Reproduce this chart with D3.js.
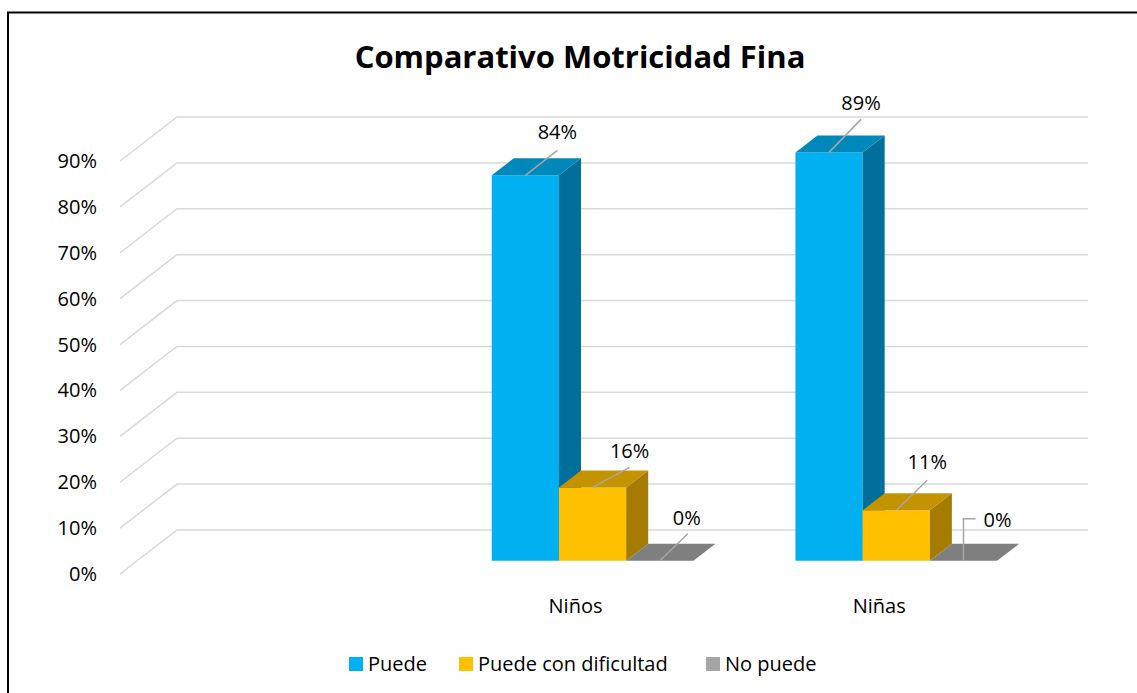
<!DOCTYPE html>
<html><head><meta charset="utf-8">
<script src="https://cdn.jsdelivr.net/npm/d3@7"></script>
<style>body{margin:0;background:#fff}svg{display:block}text{font-family:"Open Sans","Liberation Sans",Arial,sans-serif}</style>
</head><body>
<svg id="c" width="1137" height="693"></svg>
<script>
const categories = ["", "Niños", "Niñas"];
const seriesNames = ["Puede", "Puede con dificultad", "No puede"];
const puede = [null, 84, 89];
const conDificultad = [null, 16, 11];
const noPuede = [null, 0, 0];
const yTicks = [0, 10, 20, 30, 40, 50, 60, 70, 80, 90];
const title = "Comparativo Motricidad Fina";

const seriesValues = [puede, conDificultad, noPuede];
const front = ["#00B0F0", "#FFC000", "#A5A5A5"];
const topC = ["#0088BA", "#C49300", "#7F7F7F"];
const sideC = ["#006F99", "#A67C00", "#7F7F7F"];
const FS = 20;

const svg = d3.select("#c");
svg.append("path").attr("d", "M8,693 L8,12.5 L1137,12.5").attr("fill", "none").attr("stroke", "#000").attr("stroke-width", 2);

const x0 = d3.scaleBand().domain(categories).range([177, 1088]).padding(0);
const bw = x0.bandwidth();
const x1 = d3.scaleBand().domain(seriesNames).range([bw * 0.168, bw * 0.832]).padding(0);
const y = d3.scaleLinear().domain([0, 90]).range([530, 117]);
const DX = -57, DY = 44;
const proj = (x, v, z) => [x + DX * z, y(v) + DY * z];

const g = svg.append("g");
yTicks.forEach(t => {
  const a = proj(177, t, 1), b = proj(177, t, 0), c = proj(1088, t, 0);
  g.append("path").attr("d", d3.line()([a, b, c])).attr("fill", "none").attr("stroke", "#D9D9D9").attr("stroke-width", 1.5);
  g.append("text").attr("x", 97).attr("y", a[1]).attr("dy", "0.35em").attr("text-anchor", "end")
    .attr("font-size", FS).attr("fill", "#000").text(t + "%");
});

const zf = 0.7, zb = 0.314;
const bars = svg.append("g");
const labelLeaders = [
  [[32, -25], [32, -43]],
  [[37, -20], [37, -36]],
  [[28, -27], [27, -43]],
  [[32, -33], [32, -49]],
  [[31, -30], [31, -48]],
  [[0, -42, 12], [20, -41]]
];
let li = 0;
const poly = pts => "M" + pts.map(p => p.join(",")).join("L") + "Z";
categories.forEach((cat, ci) => {
  seriesNames.forEach((s, si) => {
    const v = seriesValues[si][ci];
    if (v === null) return;
    const xl = x0(cat) + x1(s), xr = xl + x1.bandwidth();
    if (v > 0) {
      bars.append("path").attr("d", poly([proj(xl, 0, zf), proj(xr, 0, zf), proj(xr, v, zf), proj(xl, v, zf)])).attr("fill", front[si]);
      bars.append("path").attr("d", poly([proj(xr, 0, zf), proj(xr, 0, zb), proj(xr, v, zb), proj(xr, v, zf)])).attr("fill", sideC[si]);
    }
    bars.append("path").attr("d", poly([proj(xl, v, zf), proj(xr, v, zf), proj(xr, v, zb), proj(xl, v, zb)])).attr("fill", topC[si]);
  });
});
const lab = svg.append("g");
categories.forEach((cat, ci) => {
  seriesNames.forEach((s, si) => {
    const v = seriesValues[si][ci];
    if (v === null) return;
    const xc = x0(cat) + x1(s) + x1.bandwidth() / 2;
    const p = proj(xc, v, zf);
    const L = labelLeaders[li++];
    let pts;
    if (L[0].length === 3) pts = [p, [p[0], p[1] + L[0][1]], [p[0] + L[0][2], p[1] + L[0][1]]];
    else pts = [p, [p[0] + L[0][0], p[1] + L[0][1]]];
    lab.append("path").attr("d", d3.line()(pts)).attr("fill", "none").attr("stroke", "#A6A6A6").attr("stroke-width", 1.5);
    lab.append("text").attr("x", p[0] + L[1][0]).attr("y", p[1] + L[1][1]).attr("dy", "0.35em")
      .attr("text-anchor", L[0].length === 3 ? "start" : "middle").attr("font-size", FS).attr("fill", "#000").text(v + "%");
  });
});
categories.forEach(cat => {
  if (!cat) return;
  const p = proj(x0(cat) + bw / 2, 0, 1);
  svg.append("text").attr("x", p[0]).attr("y", p[1] + 32).attr("dy", "0.35em").attr("text-anchor", "middle")
    .attr("font-size", FS).attr("fill", "#000").text(cat);
});
svg.append("text").attr("x", 580).attr("y", 57).attr("dy", "0.35em").attr("text-anchor", "middle")
  .attr("font-size", 31).attr("font-weight", "bold").attr("fill", "#000").text(title);
const legX = [349, 459, 706];
seriesNames.forEach((s, i) => {
  svg.append("rect").attr("x", legX[i]).attr("y", 657).attr("width", 14).attr("height", 14).attr("fill", front[i]);
  svg.append("text").attr("x", legX[i] + 19).attr("y", 664).attr("dy", "0.35em").attr("font-size", FS).attr("fill", "#000").text(s);
});
</script>
</body></html>
